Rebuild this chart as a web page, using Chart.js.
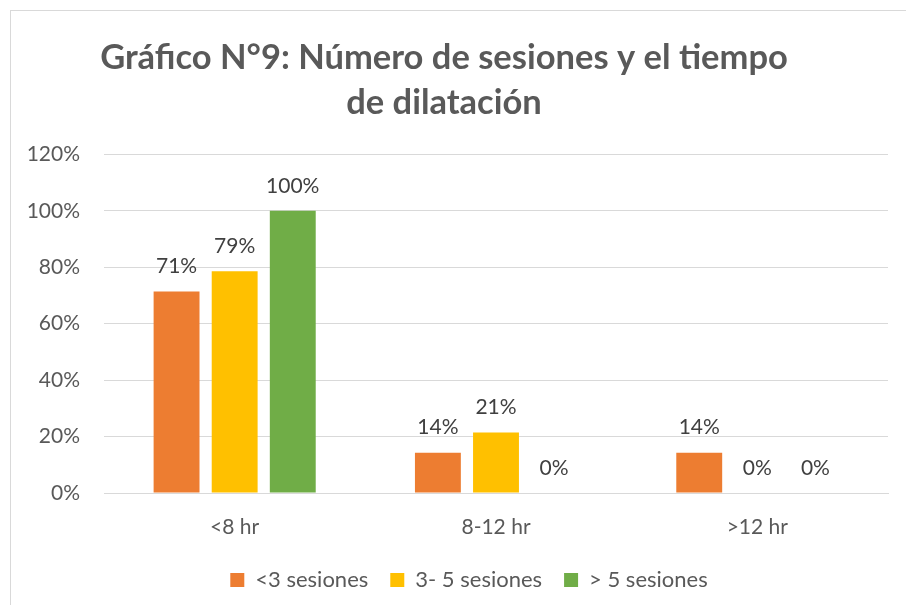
<!DOCTYPE html>
<html>
<head>
<meta charset="utf-8">
<script src="https://cdn.jsdelivr.net/npm/chart.js@4.4.0/dist/chart.umd.min.js"></script>
<style>
  html, body { margin: 0; padding: 0; background: #fff; }
  #wrap { width: 906px; height: 605px; position: relative; }
</style>
</head>
<body>
<div id="wrap"><canvas id="chart" width="906" height="605"></canvas></div>
<script>
const categories = ["<8 hr", "8-12 hr", ">12 hr"];
const seriesNames = ["<3 sesiones", "3- 5 sesiones", "> 5 sesiones"];
const menos3 = [71.4, 14.3, 14.3];
const de3a5 = [78.6, 21.4, 0];
const mas5 = [100, 0, 0];
const yTicks = [0, 20, 40, 60, 80, 100, 120];

const FONT = "Lato, 'Open Sans', sans-serif";
const GREY = "#595959";

// frame line around the chart (only top/left visible in the picture)
const framePlugin = {
  id: "frame",
  afterInit(chart) {
    // keep the legend band short so it sits near the bottom edge
    const fit = chart.legend.fit;
    chart.legend.fit = function () {
      fit.call(this);
      this.height = 58;
    };
  },
  afterLayout(chart) {
    // legend in the original sits a little right of the canvas centre
    chart.legend.left += 25;
    chart.legend.right += 25;
  },
  beforeDraw(chart) {
    const ctx = chart.ctx;
    ctx.save();
    ctx.strokeStyle = "#d9d9d9";
    ctx.lineWidth = 1;
    ctx.strokeRect(10.5, 10.5, 1200, 1200);
    ctx.restore();
  },
};

// value labels above each bar
const valueLabels = {
  id: "valueLabels",
  afterDatasetsDraw(chart) {
    const ctx = chart.ctx;
    ctx.save();
    ctx.font = "21px " + FONT;
    ctx.fillStyle = "#404040";
    ctx.textAlign = "center";
    ctx.textBaseline = "middle";
    chart.data.datasets.forEach((ds, i) => {
      chart.getDatasetMeta(i).data.forEach((bar, j) => {
        ctx.fillText(Math.round(ds.data[j]) + "%", bar.x, bar.y - 25);
      });
    });
    ctx.restore();
  },
};

new Chart(document.getElementById("chart").getContext("2d"), {
  type: "bar",
  data: {
    labels: categories,
    datasets: [
      { label: seriesNames[0], data: menos3, backgroundColor: "#ED7D31" },
      { label: seriesNames[1], data: de3a5, backgroundColor: "#FFC000" },
      { label: seriesNames[2], data: mas5, backgroundColor: "#70AD47" },
    ],
  },
  options: {
    responsive: false,
    animation: false,
    datasets: { bar: { categoryPercentage: 0.667, barPercentage: 0.79 } },
    layout: { padding: { top: 10, right: 18, bottom: 0, left: 0 } },
    scales: {
      x: {
        afterFit(scale) { scale.height = 54; },
        grid: { display: false, drawTicks: false },
        border: { color: "#d9d9d9" },
        ticks: { color: GREY, font: { size: 21, family: FONT }, padding: 22 },
      },
      y: {
        min: 0,
        max: 120,
        afterFit(scale) { scale.width = 104; },
        afterBuildTicks(scale) { scale.ticks = yTicks.map((v) => ({ value: v })); },
        grid: { color: "#d9d9d9", drawTicks: false },
        border: { display: false },
        ticks: {
          color: GREY,
          font: { size: 21, family: FONT },
          padding: 24,
          callback: (v) => v + "%",
        },
      },
    },
    plugins: {
      title: {
        display: true,
        text: ["Gráfico N°9: Número de sesiones y el tiempo", "de dilatación"],
        color: GREY,
        font: { size: 34.5, weight: "bold", family: FONT, lineHeight: 1.31 },
        padding: { top: 25, bottom: 29 },
      },
      legend: {
        position: "bottom",
        labels: {
          color: GREY,
          font: { size: 22, family: FONT },
          boxWidth: 14,
          boxHeight: 14,
          padding: 22,
        },
      },
      tooltip: { enabled: false },
    },
  },
  plugins: [framePlugin, valueLabels],
});
</script>
</body>
</html>
